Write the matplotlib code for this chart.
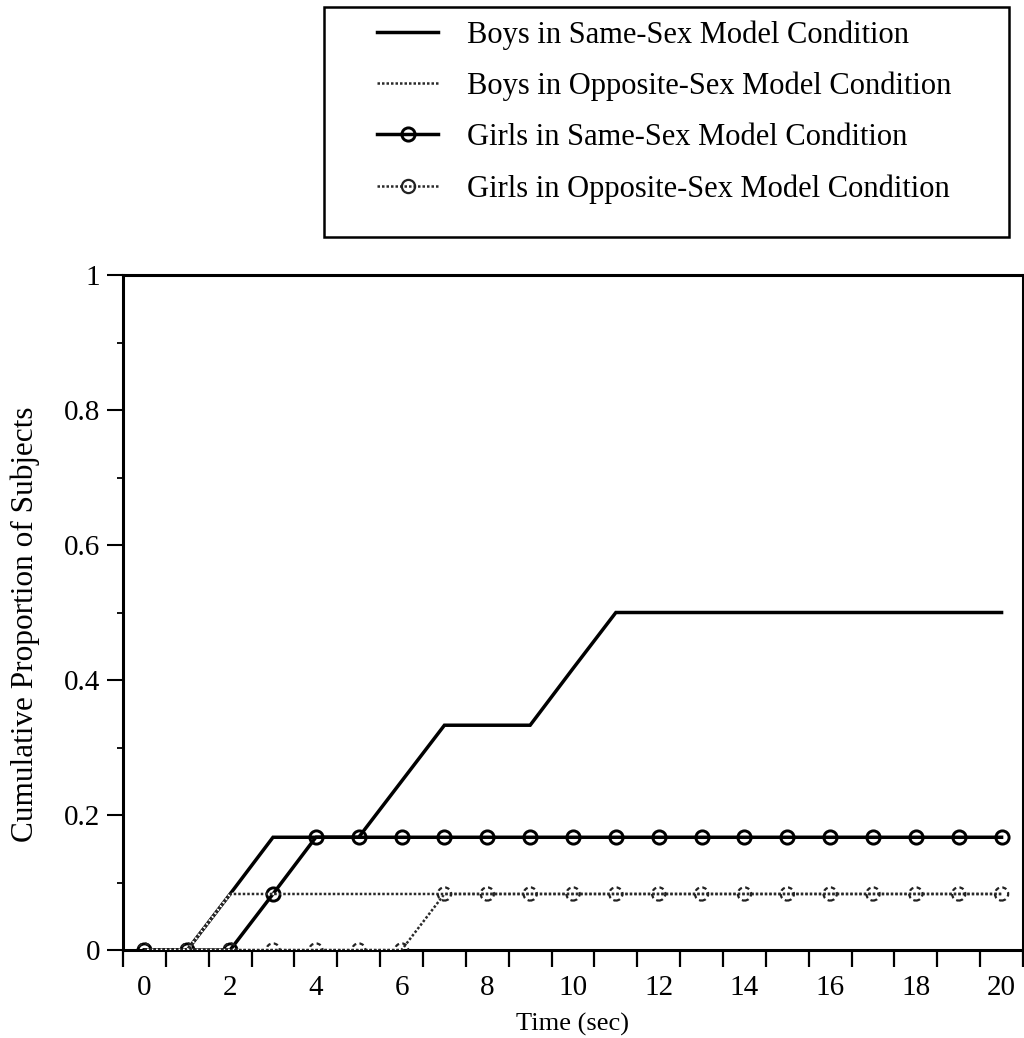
import numpy as np
import matplotlib
matplotlib.use("Agg")
import matplotlib.pyplot as plt
from matplotlib.lines import Line2D
from matplotlib.patches import Rectangle
from matplotlib.legend_handler import HandlerTuple
from matplotlib.ticker import FixedLocator

plt.rcParams['font.family'] = ['Liberation Serif', 'DejaVu Serif']

time_sec = list(range(0, 21))
boys_same = [0, 0, 0.083, 0.167, 0.167, 0.167, 0.25, 0.333, 0.333, 0.333, 0.417,
             0.5, 0.5, 0.5, 0.5, 0.5, 0.5, 0.5, 0.5, 0.5, 0.5]
boys_opp = [0, 0, 0.083, 0.083, 0.083, 0.083, 0.083, 0.083, 0.083, 0.083, 0.083,
            0.083, 0.083, 0.083, 0.083, 0.083, 0.083, 0.083, 0.083, 0.083, 0.083]
girls_same = [0, 0, 0, 0.083, 0.167, 0.167, 0.167, 0.167, 0.167, 0.167, 0.167,
              0.167, 0.167, 0.167, 0.167, 0.167, 0.167, 0.167, 0.167, 0.167, 0.167]
girls_opp = [0, 0, 0, 0, 0, 0, 0, 0.083, 0.083, 0.083, 0.083,
             0.083, 0.083, 0.083, 0.083, 0.083, 0.083, 0.083, 0.083, 0.083, 0.083]
labels = ["Boys in Same-Sex Model Condition",
          "Boys in Opposite-Sex Model Condition",
          "Girls in Same-Sex Model Condition",
          "Girls in Opposite-Sex Model Condition"]
x_ticklabels = ["0", "2", "4", "6", "8", "10", "12", "14", "16", "18", "20"]
y_ticks = [0, 0.2, 0.4, 0.6, 0.8, 1]
y_ticklabels = ["0", "0.2", "0.4", "0.6", "0.8", "1"]

W, H = 1024, 1038
fig = plt.figure(figsize=(W / 100, H / 100), dpi=100)
ax_l, ax_r, ax_t, ax_b = 123, 1023, 275, 950
ax = fig.add_axes([ax_l / W, 1 - ax_b / H, (ax_r - ax_l) / W, (ax_b - ax_t) / H])

DOT = (0, (1.0, 0.8))
MS = 9.5
x = np.array(time_sec)
ax.plot(x, boys_same, color='black', lw=2.5, solid_joinstyle='miter', zorder=3)
ax.plot(x, girls_same, color='black', lw=2.5, marker='o', ms=MS,
        mfc='none', mec='black', mew=2.1, zorder=4)
ax.plot(x, girls_opp, color='#2a2a2a', lw=1.8, ls=DOT, gapcolor='white', zorder=5)
ax.scatter(x, girls_opp, s=MS ** 2, facecolors='none', edgecolors='#222222',
           linewidths=1.6, linestyles=(0, (2, 1.5)), zorder=6)
ax.plot(x, boys_opp, color='#2a2a2a', lw=1.8, ls=DOT, gapcolor='white', zorder=5)

ax.set_xlim(-0.5, 20.5)
ax.set_ylim(0, 1)

ax.xaxis.set_major_locator(FixedLocator(x[::2]))
ax.set_xticklabels(x_ticklabels)
ax.xaxis.set_minor_locator(FixedLocator(np.arange(-0.5, 21, 1)))
ax.tick_params(axis='x', which='major', length=0, pad=18, labelsize=21)
ax.tick_params(axis='x', which='minor', length=12, width=1.6, direction='out')

ax.yaxis.set_major_locator(FixedLocator(y_ticks))
ax.set_yticklabels(y_ticklabels)
ax.yaxis.set_minor_locator(FixedLocator([0.1, 0.3, 0.5, 0.7, 0.9]))
ax.tick_params(axis='y', which='major', length=11.5, width=1.5, direction='out', pad=5, labelsize=21)
ax.tick_params(axis='y', which='minor', length=4.5, width=1.3, direction='out')

for sp in ax.spines.values():
    sp.set_linewidth(2.2)

ax.set_xlabel("Time (sec)", fontsize=19)
ax.xaxis.set_label_coords(0.5, -(1024 - ax_b) / (ax_b - ax_t))
ax.xaxis.label.set_va('center')
ax.set_ylabel("Cumulative Proportion of Subjects", fontsize=22.5)
ax.yaxis.set_label_coords(-(ax_l - 25) / (ax_r - ax_l), 0.5 - 12 / (ax_b - ax_t))
ax.yaxis.label.set_va('center')

h_bs = Line2D([], [], color='black', lw=2.5)
h_bo = Line2D([], [], color='#2a2a2a', lw=1.8, ls=DOT)
h_gs = Line2D([], [], color='black', lw=2.5, marker='o', ms=MS, mfc='none', mec='black', mew=2.1)
h_go_line = Line2D([], [], color='#2a2a2a', lw=1.8, ls=DOT)
h_go_mk = Line2D([], [], color='none', marker='o', ms=MS, mfc='none', mec='#222222', mew=1.6, ls='none')
leg = fig.legend([h_bs, h_bo, h_gs, (h_go_line, h_go_mk)], labels,
                 loc='upper left', bbox_to_anchor=(377 / W, 1 - 20 / H),
                 fontsize=22, frameon=False, handlelength=2.0,
                 handletextpad=0.95, labelspacing=0.72, borderpad=0, borderaxespad=0,
                 handler_map={tuple: HandlerTuple(ndivide=1)})
fig.patches.append(Rectangle((324 / W, 1 - 237 / H), (1009 - 324) / W, (237 - 7) / H,
                             transform=fig.transFigure, fill=False, ec='black', lw=1.8))

fig.savefig("out.png", dpi=100)
